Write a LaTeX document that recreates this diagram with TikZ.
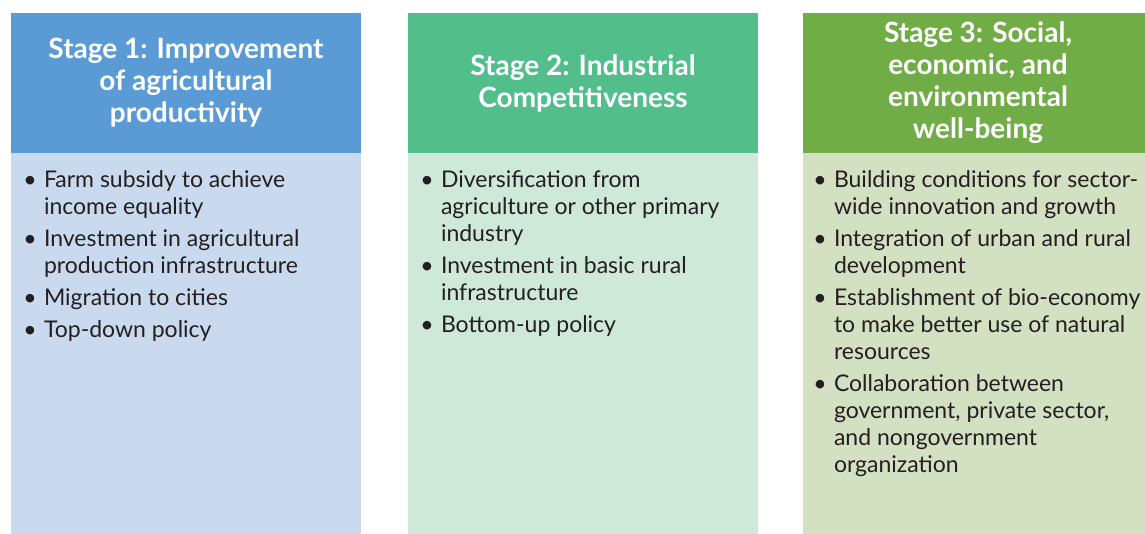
\documentclass[tikz,border=0pt]{standalone}
\usepackage{fontspec}
\setmainfont{Lato}
\usetikzlibrary{positioning}
\tikzset{x = 1pt, y = -1pt}
\definecolor{headBlue}{RGB}{91,155,213}
\definecolor{bodyBlue}{RGB}{201,218,239}
\definecolor{headTeal}{RGB}{82,190,140}
\definecolor{bodyTeal}{RGB}{206,232,218}
\definecolor{headGreen}{RGB}{112,173,71}
\definecolor{bodyGreen}{RGB}{211,224,193}
\definecolor{itemColor}{RGB}{35,31,32}
\tikzstyle{stageHead} = [rectangle, inner sep = 0, minimum width = 350pt, minimum height = 140pt, text = white, align = center, font = \fontsize{28}{32}\selectfont\bfseries]
\tikzstyle{stageBody} = [rectangle, inner sep = 0, minimum width = 350pt, minimum height = 390pt]
\tikzstyle{itemText} = [inner sep = 0, align = left, text = itemColor, font = \fontsize{23}{27}\selectfont]
\tikzstyle{itemBullet} = [inner sep = 0, anchor = north east, text = itemColor, font = \fontsize{23}{27}\selectfont]
\newcommand{\itemGap}{4.5pt}
\newcommand{\stageItem}[3]{\node [itemText, #2, anchor = north west] (#1) {\strut #3\strut}; \node [itemBullet] (#1b) at ([xshift = -7pt]#1.north west) {\strut\textbullet};}
\newcommand{\firstItem}[3]{\stageItem{#1}{at = {([xshift = 33pt, yshift = -15.5pt]#2.north west)}}{#3}}
\newcommand{\nextItem}[3]{\stageItem{#1}{below = \itemGap of #2.south west}{#3}}

\begin{document}
\begin{tikzpicture}
              \clip (0,0) rectangle (1145,533);
              \fill [white] (0,0) rectangle (1145,533);

              \node [stageHead, fill = headBlue] (h1) at (186,83) {Stage 1: Improvement\\of agricultural\\productivity};
              \node [stageBody, fill = bodyBlue, below = 0pt of h1] (b1) {};
              \firstItem{s11}{b1}{Farm subsidy to achieve\\income equality}
              \nextItem{s12}{s11}{Investment in agricultural\\production infrastructure}
              \nextItem{s13}{s12}{Migration to cities}
              \nextItem{s14}{s13}{Top-down policy}

              \node [stageHead, fill = headTeal] (h2) at (583,83) {Stage 2: Industrial\\Competitiveness};
              \node [stageBody, fill = bodyTeal, below = 0pt of h2] (b2) {};
              \firstItem{s21}{b2}{Diversification from\\agriculture or other primary\\industry}
              \nextItem{s22}{s21}{Investment in basic rural\\infrastructure}
              \nextItem{s23}{s22}{Bottom-up policy}

              \node [stageHead, fill = headGreen] (h3) at (978,83) {Stage 3: Social,\\economic, and\\environmental\\well-being};
              \node [stageBody, fill = bodyGreen, below = 0pt of h3] (b3) {};
              \stageItem{s31}{at = {([xshift = 31pt, yshift = -15.5pt]b3.north west)}}{Building conditions for sector-\\wide innovation and growth}
              \nextItem{s32}{s31}{Integration of urban and rural\\development}
              \nextItem{s33}{s32}{Establishment of bio-economy\\to make better use of natural\\resources}
              \nextItem{s34}{s33}{Collaboration between\\government, private sector,\\and nongovernment\\organization}
            \end{tikzpicture}
\end{document}
